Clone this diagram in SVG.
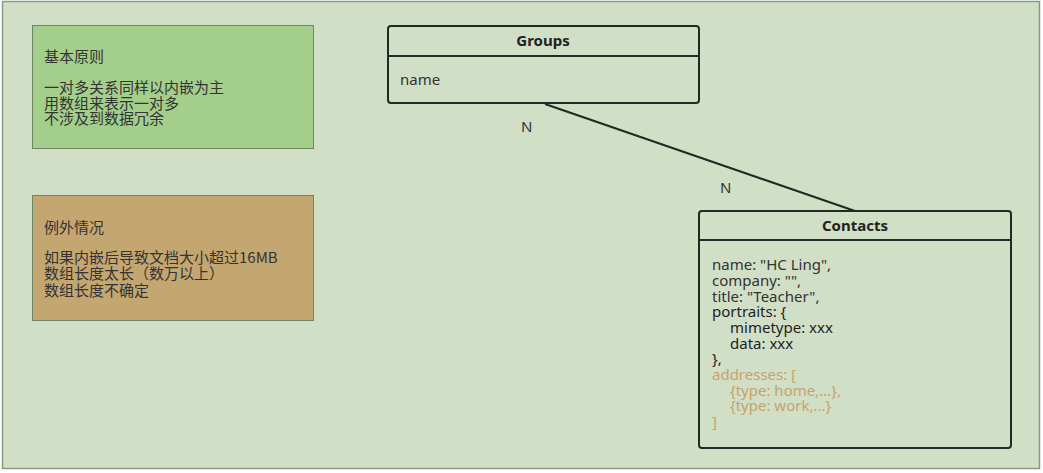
<svg xmlns="http://www.w3.org/2000/svg" width="1043" height="473" viewBox="0 0 1043 473">
<style>
.t{font-family:"Noto Sans","Noto Sans CJK SC",sans-serif;font-size:15px;fill:#333333}
.cj{font-family:"Noto Sans CJK SC","Noto Sans",sans-serif;font-size:15px;fill:#333333}
.h{font-family:"Noto Sans","Noto Sans CJK SC",sans-serif;font-size:15px;font-weight:bold;fill:#222222}
.ent{fill:none;stroke:#1e2a22;stroke-width:2}
.note{stroke:#6f8568;stroke-width:1}
.dk{fill:#1e1e1e}
.or{fill:#c9a36a}
</style>
<rect x="2.5" y="1.5" width="1037" height="467" fill="#d0dfc6" stroke="#8a9a82" stroke-width="1.5"/>
<g id="note-principle">
<rect class="note" x="32.5" y="25.5" width="281" height="123" fill="#a3cf8b"/>
<text class="cj" x="44" y="62">基本原则</text>
<text class="cj" x="44" y="93">一对多关系同样以内嵌为主</text>
<text class="cj" x="44" y="109">用数组来表示一对多</text>
<text class="cj" x="44" y="124">不涉及到数据冗余</text>
</g>
<g id="note-exception">
<rect class="note" x="32.5" y="195.5" width="281" height="125" fill="#c4a670"/>
<text class="cj" x="44" y="233">例外情况</text>
<text class="cj" x="44" y="263">如果内嵌后导致文档大小超过16MB</text>
<text class="cj" x="44" y="279">数组长度太长（数万以上）</text>
<text class="cj" x="44" y="296">数组长度不确定</text>
</g>
<g id="connectors">
<line x1="545" y1="104" x2="855" y2="211" stroke="#1e2a22" stroke-width="2"/>
<text class="t" x="521" y="132">N</text>
<text class="t" x="720" y="193">N</text>
</g>
<g id="groups">
<rect class="ent" x="388" y="26" width="311" height="77" rx="3"/>
<line x1="388" y1="56" x2="699" y2="56" stroke="#1e2a22" stroke-width="2"/>
<text class="h" x="543" y="46" text-anchor="middle">Groups</text>
<text class="t" x="400" y="85">name</text>
</g>
<g id="contacts">
<rect class="ent" x="699" y="211" width="312" height="237" rx="3"/>
<line x1="699" y1="240" x2="1011" y2="240" stroke="#1e2a22" stroke-width="2"/>
<text class="h" x="855" y="231" text-anchor="middle">Contacts</text>
<text class="t" x="712" y="270">name: "HC Ling",</text>
<text class="t" x="712" y="286">company: "",</text>
<text class="t" x="712" y="302">title: "Teacher",</text>
<text class="t dk" x="712" y="317">portraits: {</text>
<text class="t dk" x="730" y="333">mimetype: xxx</text>
<text class="t dk" x="730" y="349">data: xxx</text>
<text class="t dk" x="712" y="364">},</text>
<text class="t or" x="712" y="380">addresses: [</text>
<text class="t or" x="730" y="396">{type: home,...},</text>
<text class="t or" x="730" y="411">{type: work,...}</text>
<text class="t or" x="712" y="427">]</text>
</g>
</svg>
